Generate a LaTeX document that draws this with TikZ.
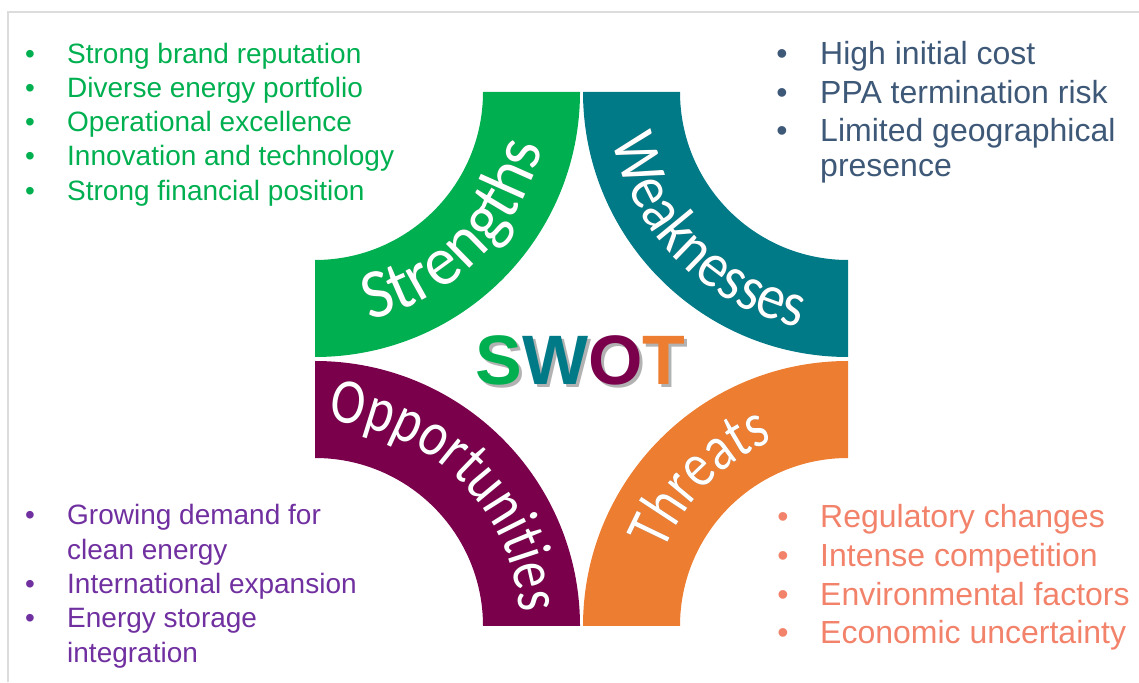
\documentclass[tikz,border=0pt]{standalone}
\usepackage{fontspec}
\setmainfont{Liberation Sans}
\newfontfamily\lblfont[FakeStretch=0.95]{Carlito}
\newfontfamily\lblfontw[FakeStretch=0.875]{Carlito}
\newfontfamily\lblfontn[FakeStretch=0.815]{Carlito}
\usetikzlibrary{decorations.text}

\definecolor{strgreen}{RGB}{0,176,80}
\definecolor{weakteal}{RGB}{0,122,135}
\definecolor{oppplum}{RGB}{122,0,76}
\definecolor{throrange}{RGB}{237,125,49}
\definecolor{listslate}{RGB}{62,88,120}
\definecolor{listviolet}{RGB}{112,48,160}
\definecolor{listsalmon}{RGB}{242,130,106}
\definecolor{framegray}{RGB}{220,220,220}

\tikzset{
  litem/.style={anchor=base west, inner sep=0pt, font=\fontsize{28}{34}\selectfont},
  ritem/.style={anchor=base west, inner sep=0pt, font=\fontsize{32}{38}\selectfont},
  lbul/.style={anchor=base, inner sep=0pt, font=\fontsize{28}{34}\selectfont},
  rbul/.style={anchor=base, inner sep=0pt, font=\fontsize{32}{38}\selectfont},
  swotfont/.style={anchor=base, inner sep=0pt, font=\bfseries\fontsize{70}{70}\selectfont}
}

% curved white label with a dark shadow: corner, start, end, radius, font, size, text, shadow
\newcommand{\arclabel}[8]{%
  \path[decorate, shift={(1.8,-1.8)}, decoration={text along path, text align=center,
    text color=#8, text={|#5\fontsize{#6}{#6}\selectfont|#7}}]
    (#1) ++(#2:#4) arc[start angle=#2, end angle=#3, radius=#4];
  \path[decorate, decoration={text along path, text align=center,
    text color=white, text={|#5\fontsize{#6}{#6}\selectfont|#7}}]
    (#1) ++(#2:#4) arc[start angle=#2, end angle=#3, radius=#4];}

\begin{document}
\begin{tikzpicture}[x=1pt, y=1pt]
  \useasboundingbox (0,0) rectangle (1139,682);
  \draw[framegray, line width=1.2pt] (8,0) -- (8,670) -- (1139,670);

  % outer corners of the four bands
  \coordinate (cS) at (315,590);
  \coordinate (cW) at (848,590);
  \coordinate (cO) at (315,56);
  \coordinate (cT) at (848,56);

  % quarter rings
  \fill[strgreen] (cS) ++(-90:265) arc[start angle=-90, end angle=0, radius=265]
    -- ++(-97,0) arc[start angle=0, end angle=-90, radius=168] -- cycle;
  \fill[weakteal] (cW) ++(180:265) arc[start angle=180, end angle=270, radius=265]
    -- ++(0,97) arc[start angle=270, end angle=180, radius=168] -- cycle;
  \fill[oppplum] (cO) ++(90:265) arc[start angle=90, end angle=0, radius=265]
    -- ++(-97,0) arc[start angle=0, end angle=90, radius=168] -- cycle;
  \fill[throrange] (cT) ++(90:265) arc[start angle=90, end angle=180, radius=265]
    -- ++(97,0) arc[start angle=180, end angle=90, radius=168] -- cycle;

  \arclabel{cS}{-90}{0}{234}{\lblfont}{70}{Strengths}{strgreen!55!black}
  \arclabel{cW}{180}{270}{240}{\lblfontw}{64}{Weaknesses}{weakteal!55!black}
  \arclabel{cO}{90}{0}{205}{\lblfontn}{64}{Opportunities}{oppplum!55!black}
  \arclabel{cT}{180}{90}{199}{\lblfontn}{64}{Threats}{throrange!55!black}

  % centre title
  \node[swotfont, text=black!30] (swot-shadow) at (583.5,294.5) {SWOT};
  \node[swotfont] (swot) at (580.5,297) {\textcolor{strgreen}{S}\textcolor{weakteal}{W}\textcolor{oppplum}{O}\textcolor{throrange}{T}};

  % strengths list
  \foreach \t [count=\i from 0] in {Strong brand reputation, Diverse energy portfolio,
      Operational excellence, Innovation and technology, Strong financial position} {
    \node[litem, text=strgreen] (str-\i) at (67,682-63.3-34.2*\i) {\t};
    \node[lbul, text=strgreen] (strb-\i) at (30,682-63.3-34.2*\i) {•};
  }

  % weaknesses list
  \foreach \y/\t [count=\i] in {65/High initial cost, 103.3/PPA termination risk,
      141.7/Limited geographical, 176.7/presence}
    \node[ritem, text=listslate] (weak-\i) at (820,682-\y) {\t};
  \foreach \y [count=\i] in {65,103.3,141.7}
    \node[rbul, text=listslate] (weakb-\i) at (782,682-\y) {•};

  % opportunities list
  \foreach \y/\t [count=\i] in {525/Growing demand for, 559.5/clean energy,
      593.8/International expansion, 628/Energy storage, 662.5/integration}
    \node[litem, text=listviolet] (opp-\i) at (67,682-\y) {\t};
  \foreach \y [count=\i] in {525,593.8,628}
    \node[lbul, text=listviolet] (oppb-\i) at (30,682-\y) {•};

  % threats list
  \foreach \y/\t [count=\i] in {527.3/Regulatory changes, 566.8/Intense competition,
      605.7/Environmental factors, 644/Economic uncertainty} {
    \node[ritem, text=listsalmon] (thr-\i) at (820,682-\y) {\t};
    \node[rbul, text=listsalmon] (thrb-\i) at (783,682-\y) {•};
  }
\end{tikzpicture}
\end{document}
